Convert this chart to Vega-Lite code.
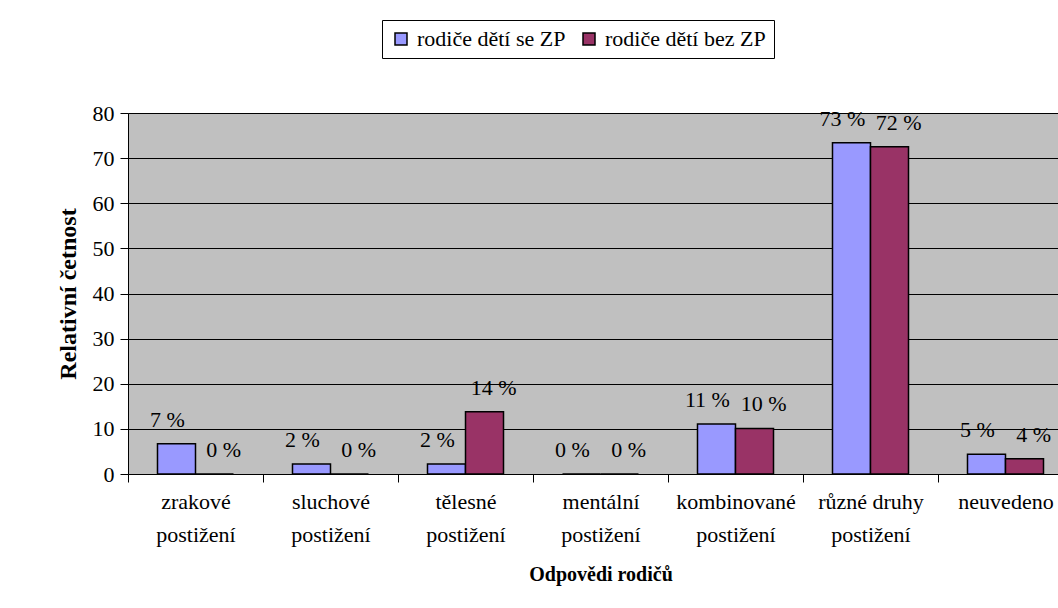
{
  "$schema": "https://vega.github.io/schema/vega-lite/v6.json",
  "width": 930,
  "height": 361,
  "autosize": {"type": "none"},
  "padding": {"left": 128, "top": 113, "right": 0, "bottom": 134},
  "background": "white",
  "config": {
    "font": "Times New Roman, Liberation Serif, serif",
    "view": {"fill": "#C0C0C0", "stroke": null}
  },
  "data": {
    "values": [
      {"kategorie": "zrakové postižení", "skupina": "rodiče dětí se ZP", "hodnota": 6.7, "popisek": "7 %"},
      {"kategorie": "zrakové postižení", "skupina": "rodiče dětí bez ZP", "hodnota": 0, "popisek": "0 %"},
      {"kategorie": "sluchové postižení", "skupina": "rodiče dětí se ZP", "hodnota": 2.2, "popisek": "2 %"},
      {"kategorie": "sluchové postižení", "skupina": "rodiče dětí bez ZP", "hodnota": 0, "popisek": "0 %"},
      {"kategorie": "tělesné postižení", "skupina": "rodiče dětí se ZP", "hodnota": 2.2, "popisek": "2 %"},
      {"kategorie": "tělesné postižení", "skupina": "rodiče dětí bez ZP", "hodnota": 13.8, "popisek": "14 %"},
      {"kategorie": "mentální postižení", "skupina": "rodiče dětí se ZP", "hodnota": 0, "popisek": "0 %"},
      {"kategorie": "mentální postižení", "skupina": "rodiče dětí bez ZP", "hodnota": 0, "popisek": "0 %"},
      {"kategorie": "kombinované postižení", "skupina": "rodiče dětí se ZP", "hodnota": 11.1, "popisek": "11 %"},
      {"kategorie": "kombinované postižení", "skupina": "rodiče dětí bez ZP", "hodnota": 10.1, "popisek": "10 %"},
      {"kategorie": "různé druhy postižení", "skupina": "rodiče dětí se ZP", "hodnota": 73.4, "popisek": "73 %"},
      {"kategorie": "různé druhy postižení", "skupina": "rodiče dětí bez ZP", "hodnota": 72.5, "popisek": "72 %"},
      {"kategorie": "neuvedeno", "skupina": "rodiče dětí se ZP", "hodnota": 4.4, "popisek": "5 %"},
      {"kategorie": "neuvedeno", "skupina": "rodiče dětí bez ZP", "hodnota": 3.4, "popisek": "4 %"}
    ]
  },
  "encoding": {
    "x": {
      "field": "kategorie",
      "type": "nominal",
      "sort": null,
      "scale": {"range": [0, 945], "paddingInner": 0, "paddingOuter": 0},
      "axis": {
        "title": "Odpovědi rodičů",
        "titleFont": "Times New Roman, Liberation Serif, serif",
        "titleFontSize": 20,
        "titleFontWeight": "bold",
        "titleColor": "black",
        "titlePadding": 19,
        "labelAngle": 0,
        "labelFont": "Times New Roman, Liberation Serif, serif",
        "labelFontSize": 22,
        "labelColor": "black",
        "labelLineHeight": 33,
        "labelPadding": 9,
        "labelLimit": 200,
        "labelExpr": "datum.label == 'zrakové postižení' ? ['zrakové', 'postižení'] : datum.label == 'sluchové postižení' ? ['sluchové', 'postižení'] : datum.label == 'tělesné postižení' ? ['tělesné', 'postižení'] : datum.label == 'mentální postižení' ? ['mentální', 'postižení'] : datum.label == 'kombinované postižení' ? ['kombinované', 'postižení'] : datum.label == 'různé druhy postižení' ? ['různé druhy', 'postižení'] : datum.label",
        "tickBand": "extent",
        "tickSize": 8,
        "tickColor": "black",
        "domainColor": "black",
        "grid": false
      }
    },
    "y": {
      "field": "hodnota",
      "type": "quantitative",
      "scale": {"domain": [0, 80], "nice": false},
      "axis": {
        "title": "Relativní četnost",
        "titleFont": "Times New Roman, Liberation Serif, serif",
        "titleFontSize": 24,
        "titleFontWeight": "bold",
        "titleColor": "black",
        "titlePadding": 12,
        "values": [0, 10, 20, 30, 40, 50, 60, 70, 80],
        "labelFont": "Times New Roman, Liberation Serif, serif",
        "labelFontSize": 22,
        "labelColor": "black",
        "labelPadding": 6,
        "tickSize": 8,
        "tickColor": "black",
        "domainColor": "black",
        "grid": true,
        "gridColor": "black",
        "gridOpacity": 1,
        "gridWidth": 1
      }
    }
  },
  "layer": [
    {
      "mark": {"type": "bar", "stroke": "black", "strokeWidth": 1.5},
      "encoding": {
        "xOffset": {
          "field": "skupina",
          "type": "nominal",
          "sort": ["rodiče dětí se ZP", "rodiče dětí bez ZP"],
          "scale": {"paddingInner": 0, "paddingOuter": 0.776}
        },
        "color": {
          "field": "skupina",
          "type": "nominal",
          "scale": {"domain": ["rodiče dětí se ZP", "rodiče dětí bez ZP"], "range": ["#9999FF", "#993366"]},
          "legend": {
            "title": null,
            "orient": "none",
            "legendX": 254,
            "legendY": -93,
            "direction": "horizontal",
            "fillColor": "white",
            "strokeColor": "black",
            "padding": 8,
            "symbolType": "square",
            "symbolSize": 144,
            "symbolStrokeColor": "black",
            "symbolStrokeWidth": 1.5,
            "symbolOpacity": 1,
            "labelFont": "Times New Roman, Liberation Serif, serif",
            "labelFontSize": 22,
            "labelColor": "black",
            "labelLimit": 300,
            "labelOffset": 5,
            "columnPadding": 12
          }
        }
      }
    },
    {
      "mark": {"type": "text", "baseline": "middle", "dy": -24, "fontSize": 22, "font": "Times New Roman, Liberation Serif, serif", "color": "black"},
      "encoding": {
        "xOffset": {
          "field": "skupina",
          "type": "nominal",
          "sort": ["rodiče dětí se ZP", "rodiče dětí bez ZP"],
          "scale": {"paddingInner": 0, "paddingOuter": 0.7}
        },
        "text": {"field": "popisek", "type": "nominal"}
      }
    }
  ],
  "resolve": {"scale": {"xOffset": "independent"}}
}
